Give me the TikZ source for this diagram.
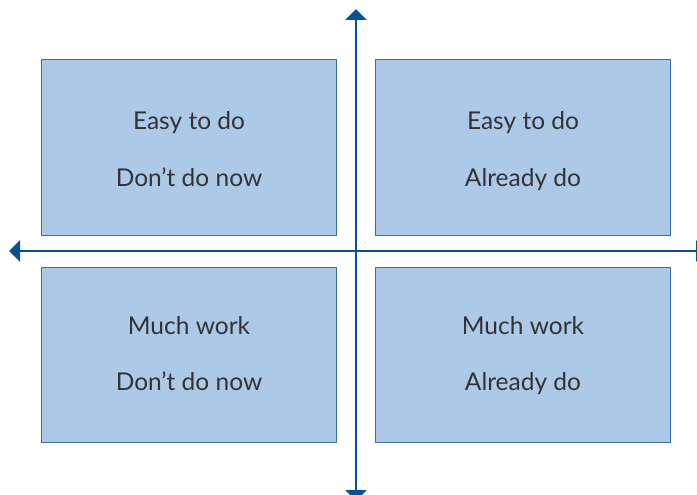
\documentclass[tikz,border=0pt]{standalone}
\usepackage{fontspec}
\setmainfont{Lato}
\usetikzlibrary{arrows.meta}
\definecolor{axisblue}{HTML}{0B4F94}
\definecolor{boxfill}{HTML}{ADC9E8}
\definecolor{boxline}{HTML}{3C6FA8}
\definecolor{txt}{HTML}{333333}
\begin{document}
\begin{tikzpicture}[x=1pt,y=-1pt,
  quad/.style={draw=boxline, fill=boxfill, line width=1pt, minimum width=295pt, minimum height=175pt, inner sep=0pt},
  lbl/.style={font=\fontsize{24.5}{28}\selectfont, text=txt, anchor=base, inner sep=0pt},
  axis/.style={draw=axisblue, line width=2.8pt, -{Triangle[width=21pt,length=11pt]}}]
\useasboundingbox (0,0) rectangle (697,495);
\node[quad] (tl) at (188.5,147.5) {};
\node[quad] (tr) at (523,147.5) {};
\node[quad] (bl) at (188.5,355) {};
\node[quad] (br) at (523,355) {};
\node[lbl] (tl1) at (189,130) {Easy to do};
\node[lbl] (tl2) at (189,186) {Don’t do now};
\node[lbl] (tr1) at (523,130) {Easy to do};
\node[lbl] (tr2) at (523,186) {Already do};
\node[lbl] (bl1) at (189,334) {Much work};
\node[lbl] (bl2) at (189,390) {Don’t do now};
\node[lbl] (br1) at (523,334) {Much work};
\node[lbl] (br2) at (523,390) {Already do};
\coordinate (o) at (356,251);
\coordinate (top) at (356,9);
\coordinate (bot) at (356,501);
\coordinate (left) at (9,251);
\coordinate (right) at (707,251);
\draw[axis] (o) -- (top);
\draw[axis] (o) -- (bot);
\draw[axis] (o) -- (left);
\draw[axis] (o) -- (right);
\end{tikzpicture}
\end{document}
